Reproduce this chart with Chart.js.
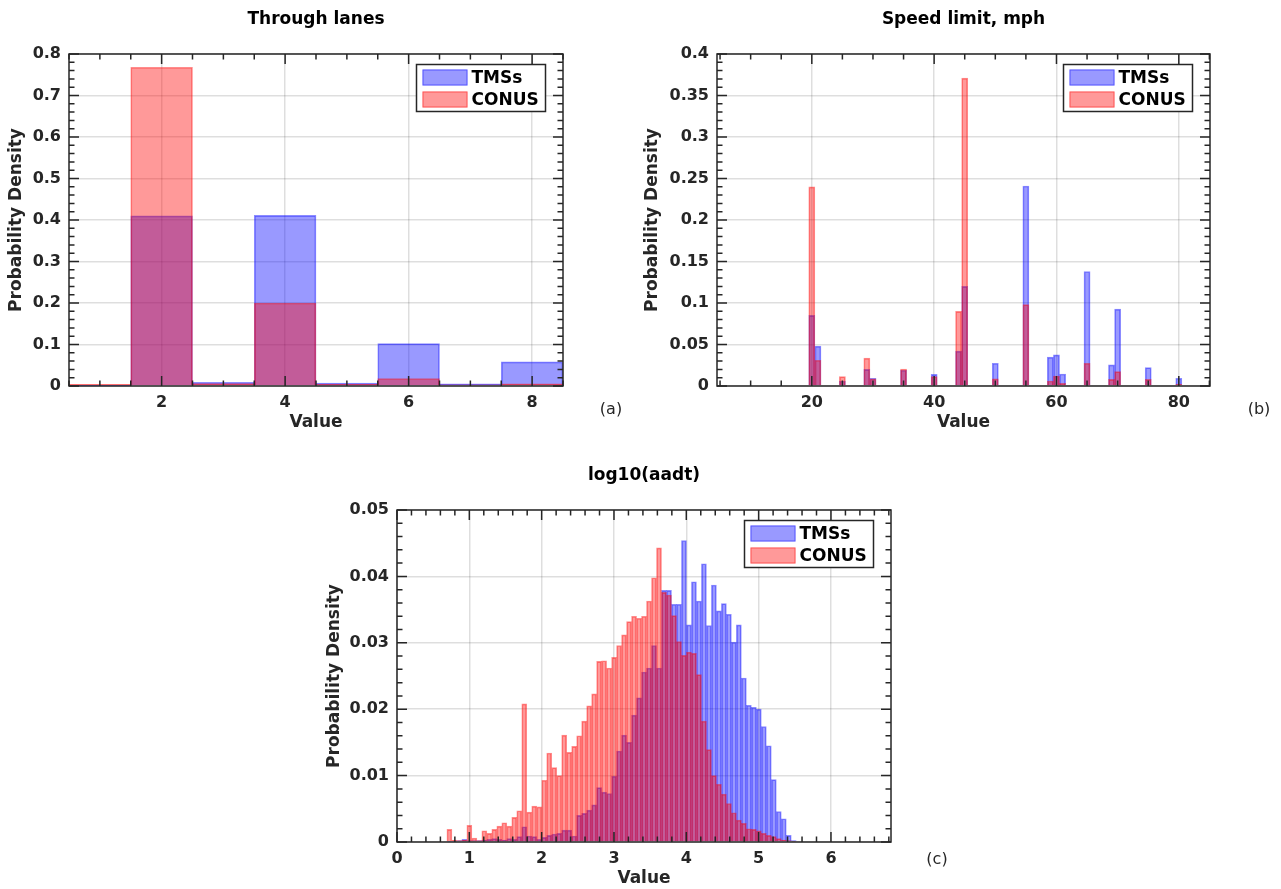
<!DOCTYPE html>
<html>
<head>
<meta charset="utf-8">
<title>Histograms</title>
<script src="https://cdn.jsdelivr.net/npm/chart.js@4.4.1/dist/chart.umd.min.js"></script>
<style>
  html, body { margin: 0; padding: 0; background: #fff; }
  body { width: 1281px; height: 889px; position: relative; overflow: hidden; font-family: "DejaVu Sans", sans-serif; }
  .panel { position: absolute; }
  .panel canvas { display: block; }
  .tag { position: absolute; font-size: 16px; color: #262626; transform: translate(-50%, -50%); white-space: nowrap; }
</style>
</head>
<body>
<div class="panel" style="left:0;top:0"><canvas id="lanesChart" width="640" height="440"></canvas></div>
<div class="panel" style="left:640px;top:0"><canvas id="speedChart" width="641" height="440"></canvas></div>
<div class="panel" style="left:320px;top:440px"><canvas id="aadtChart" width="640" height="449"></canvas></div>
<div class="tag" style="left:611px;top:408px">(a)</div>
<div class="tag" style="left:1259px;top:408px">(b)</div>
<div class="tag" style="left:937px;top:858px">(c)</div>
<script>
const seriesNames = ["TMSs", "CONUS"];

// Through lanes, one bin per lane count
const laneBins = [1, 2, 3, 4, 5, 6, 7, 8];
const laneTMSs = [0.001, 0.41, 0.009, 0.411, 0.007, 0.102, 0.005, 0.058];
const laneCONUS = [0.004, 0.768, 0.006, 0.2, 0.004, 0.018, 0.003, 0.005];
const laneXTicks = [2, 4, 6, 8];
const laneYTicks = [0, 0.1, 0.2, 0.3, 0.4, 0.5, 0.6, 0.7, 0.8];

// Speed limit, mph (only the bins that hold data)
const speedBins = [20, 21, 25, 29, 30, 35, 40, 44, 45, 50, 55, 59, 60, 61, 65, 69, 70, 75, 80];
const speedTMSs = [0.085, 0.048, 0.006, 0.020, 0.0093, 0.019, 0.014, 0.042, 0.120, 0.0274,
  0.241, 0.0347, 0.0375, 0.0145, 0.138, 0.0254, 0.0927, 0.0222, 0.0093];
const speedCONUS = [0.240, 0.031, 0.0113, 0.0335, 0.0085, 0.0205, 0.0113, 0.090, 0.371, 0.0085,
  0.098, 0.006, 0.0121, 0.0032, 0.0274, 0.008, 0.0173, 0.008, 0.002];
const speedXTicks = [20, 40, 60, 80];
const speedYTicks = [0, 0.05, 0.1, 0.15, 0.2, 0.25, 0.3, 0.35, 0.4];

// log10(aadt): bins of width 0.069 from 0, the lists start at bin number 10
const aadtBinWidth = 0.069;
const aadtFirstBin = 10;
const aadtTMSs = [
  0.0001, 0.0001, 0.0002, 0.0004, 0.0002, 0.0002, 0.0002, 0.0003, 0.0004, 0.0005,
  0.0004, 0.0003, 0.0005, 0.0004, 0.0008, 0.0023, 0.0009, 0.0008, 0.0004, 0.0007,
  0.0010, 0.0012, 0.0013, 0.0018, 0.0018, 0.0009, 0.0040, 0.0043, 0.0048, 0.0056,
  0.0082, 0.0075, 0.0073, 0.0099, 0.0137, 0.0161, 0.0150, 0.0191, 0.0217, 0.0256,
  0.0262, 0.0296, 0.0262, 0.0379, 0.0379, 0.0358, 0.0358, 0.0454, 0.0327, 0.0392,
  0.0363, 0.0419, 0.0326, 0.0387, 0.0348, 0.0359, 0.0343, 0.0301, 0.0327, 0.0247,
  0.0206, 0.0203, 0.0200, 0.0174, 0.0145, 0.0094, 0.0046, 0.0035, 0.0010, 0.0002
];
const aadtCONUS = [
  0.0019, 0.0003, 0.0002, 0.0003, 0.0025, 0.0006, 0.0002, 0.0017, 0.0013, 0.0019,
  0.0024, 0.0029, 0.0024, 0.0037, 0.0047, 0.0208, 0.0045, 0.0054, 0.0053, 0.0093,
  0.0134, 0.0112, 0.0100, 0.0161, 0.0135, 0.0144, 0.0160, 0.0182, 0.0205, 0.0223,
  0.0272, 0.0273, 0.0262, 0.0278, 0.0296, 0.0312, 0.0332, 0.0340, 0.0337, 0.0340,
  0.0363, 0.0398, 0.0443, 0.0376, 0.0372, 0.0341, 0.0302, 0.0281, 0.0286, 0.0284,
  0.0252, 0.0182, 0.0139, 0.0100, 0.0087, 0.0072, 0.0058, 0.0044, 0.0033, 0.0028,
  0.0020, 0.0019, 0.0017, 0.0013, 0.0010, 0.0008, 0.0005, 0.0003, 0.0002, 0.0001
];
const aadtBins = aadtTMSs.map((_, i) => (aadtFirstBin + i + 0.5) * aadtBinWidth);
const aadtXTicks = [0, 1, 2, 3, 4, 5, 6];
const aadtYTicks = [0, 0.01, 0.02, 0.03, 0.04, 0.05];

const FONT = "DejaVu Sans";
const INK = "#262626";
const GRID = "rgba(0, 0, 0, 0.13)";
const BLUE_FILL = "rgba(0, 0, 255, 0.4)";
const BLUE_EDGE = "rgba(0, 0, 255, 0.45)";
const RED_FILL = "rgba(255, 0, 0, 0.4)";
const RED_EDGE = "rgba(255, 0, 0, 0.45)";

const fmt = (v) => String(Math.round(v * 1000) / 1000);

function stepsIn(min, max, step) {
  const out = [];
  const a = Math.ceil(min / step - 1e-9);
  const b = Math.floor(max / step + 1e-9);
  for (let i = a; i <= b; i++) out.push(i * step);
  return out;
}

// box round the axes with inward major and minor ticks on all four sides
const boxAndTicks = {
  id: "boxAndTicks",
  afterDatasetsDraw(chart, args, opts) {
    const { ctx, chartArea: a } = chart;
    const xs = chart.scales.x;
    const ys = chart.scales.y;
    const isMajor = (scale, v) => scale.ticks.some((t) => Math.abs(t.value - v) < 1e-9);
    ctx.save();
    ctx.strokeStyle = INK;
    ctx.lineWidth = 1.5;
    ctx.beginPath();
    stepsIn(xs.min, xs.max, opts.xMinor).forEach((v) => {
      const len = isMajor(xs, v) ? 10 : 5.5;
      const px = xs.getPixelForValue(v);
      ctx.moveTo(px, a.bottom);
      ctx.lineTo(px, a.bottom - len);
      ctx.moveTo(px, a.top);
      ctx.lineTo(px, a.top + len);
    });
    stepsIn(ys.min, ys.max, opts.yMinor).forEach((v) => {
      const len = isMajor(ys, v) ? 10 : 5.5;
      const py = ys.getPixelForValue(v);
      ctx.moveTo(a.left, py);
      ctx.lineTo(a.left + len, py);
      ctx.moveTo(a.right, py);
      ctx.lineTo(a.right - len, py);
    });
    ctx.stroke();
    ctx.strokeRect(a.left, a.top, a.right - a.left, a.bottom - a.top);
    ctx.restore();
  },
};

// legend inside the axes, top right, with a frame
const framedLegend = {
  id: "framedLegend",
  afterDraw(chart) {
    const { ctx, chartArea: a } = chart;
    const w = 129;
    const h = 47;
    const bx = a.right - 17.5 - w;
    const by = a.top + 10.5;
    ctx.save();
    ctx.fillStyle = "#fff";
    ctx.fillRect(bx, by, w, h);
    ctx.strokeStyle = INK;
    ctx.lineWidth = 1.5;
    ctx.strokeRect(bx, by, w, h);
    ctx.font = "bold 17px '" + FONT + "'";
    ctx.textBaseline = "middle";
    chart.data.datasets.forEach((ds, i) => {
      const cy = by + 13 + i * 22;
      ctx.fillStyle = ds.backgroundColor;
      ctx.fillRect(bx + 6, cy - 8, 45, 16);
      ctx.strokeStyle = ds.borderColor;
      ctx.lineWidth = 1;
      ctx.strokeRect(bx + 6.5, cy - 7.5, 44, 15);
      ctx.fillStyle = "#000";
      ctx.fillText(ds.label, bx + 55, cy + 1);
    });
    ctx.restore();
  },
};

function buildHistogram(canvasId, spec) {
  const canvas = document.getElementById(canvasId);
  const ctx = canvas.getContext("2d");
  const toPoints = (bins, vals) => vals.map((v, i) => ({ x: bins[i], y: v }));
  const tickFont = { family: FONT, size: 16, weight: "bold" };
  const labelFont = { family: FONT, size: 17, weight: "bold" };

  return new Chart(ctx, {
    type: "bar",
    data: {
      datasets: [
        {
          label: seriesNames[0],
          data: toPoints(spec.bins, spec.tms),
          backgroundColor: BLUE_FILL,
          borderColor: BLUE_EDGE,
          borderWidth: 1,
          order: 1,
        },
        {
          label: seriesNames[1],
          data: toPoints(spec.bins, spec.conus),
          backgroundColor: RED_FILL,
          borderColor: RED_EDGE,
          borderWidth: 1,
          order: 0,
        },
      ],
    },
    options: {
      responsive: false,
      maintainAspectRatio: false,
      animation: false,
      devicePixelRatio: 1,
      grouped: false,
      barPercentage: 1,
      categoryPercentage: 1,
      layout: { padding: { left: 0, right: spec.padRight, top: 0, bottom: 0 } },
      plugins: {
        legend: { display: false },
        tooltip: { enabled: false },
        title: {
          display: true,
          fullSize: false,
          text: spec.title,
          color: "#000",
          font: labelFont,
          padding: { top: spec.titleTop, bottom: spec.titleBottom },
        },
        boxAndTicks: { xMinor: spec.xMinor, yMinor: spec.yMinor },
      },
      scales: {
        x: {
          type: "linear",
          min: spec.xMin,
          max: spec.xMax,
          offset: false,
          grid: { color: GRID, lineWidth: 1.5, drawTicks: false, offset: false },
          border: { display: false },
          ticks: { font: tickFont, color: INK, padding: 7, maxRotation: 0, autoSkip: false, callback: fmt },
          afterBuildTicks: (s) => { s.ticks = spec.xTicks.map((v) => ({ value: v })); },
          afterFit: (s) => { s.height = spec.xAxisHeight; },
          title: { display: true, text: "Value", color: INK, font: labelFont, padding: { top: 0, bottom: spec.valueBottom } },
        },
        y: {
          type: "linear",
          min: 0,
          max: spec.yMax,
          grid: { color: GRID, lineWidth: 1.5, drawTicks: false },
          border: { display: false },
          ticks: { font: tickFont, color: INK, padding: 8, autoSkip: false, callback: fmt },
          afterBuildTicks: (s) => { s.ticks = spec.yTicks.map((v) => ({ value: v })); },
          afterFit: (s) => { s.width = spec.yAxisWidth; },
          title: { display: true, text: "Probability Density", color: INK, font: labelFont, padding: { top: spec.yLabelInset, bottom: 0 } },
        },
      },
    },
    plugins: [boxAndTicks, framedLegend],
  });
}

buildHistogram("lanesChart", {
  title: "Through lanes",
  bins: laneBins, tms: laneTMSs, conus: laneCONUS,
  xMin: 0.5, xMax: 8.5, xTicks: laneXTicks, xMinor: 0.5,
  yMax: 0.8, yTicks: laneYTicks, yMinor: 0.02,
  padRight: 77, yAxisWidth: 69, yLabelInset: 6,
  titleTop: 9, titleBottom: 24.6, xAxisHeight: 54, valueBottom: 7,
});

buildHistogram("speedChart", {
  title: "Speed limit, mph",
  bins: speedBins, tms: speedTMSs, conus: speedCONUS,
  xMin: 4.5, xMax: 85.1, xTicks: speedXTicks, xMinor: 5,
  yMax: 0.4, yTicks: speedYTicks, yMinor: 0.01,
  padRight: 71, yAxisWidth: 77, yLabelInset: 2,
  titleTop: 9, titleBottom: 24.6, xAxisHeight: 54, valueBottom: 7,
});

buildHistogram("aadtChart", {
  title: "log10(aadt)",
  bins: aadtBins, tms: aadtTMSs, conus: aadtCONUS,
  xMin: 0, xMax: 6.83, xTicks: aadtXTicks, xMinor: 0.2,
  yMax: 0.05, yTicks: aadtYTicks, yMinor: 0.002,
  padRight: 69, yAxisWidth: 77, yLabelInset: 4,
  titleTop: 25, titleBottom: 24.6, xAxisHeight: 47, valueBottom: 0,
});
</script>
</body>
</html>
